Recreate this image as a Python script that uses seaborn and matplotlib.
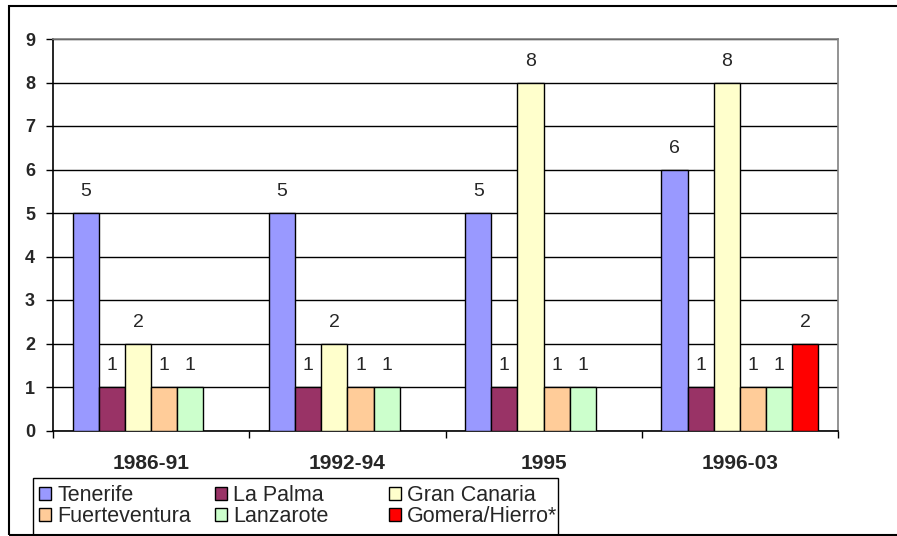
import numpy as np
import pandas as pd
import seaborn as sns
import matplotlib.pyplot as plt
from matplotlib.patches import Patch, Rectangle
from matplotlib.ticker import FixedLocator

periods = ['1986-91', '1992-94', '1995', '1996-03']
islands = ['Tenerife', 'La Palma', 'Gran Canaria', 'Fuerteventura', 'Lanzarote', 'Gomera/Hierro*']
tenerife = [5, 5, 5, 6]
la_palma = [1, 1, 1, 1]
gran_canaria = [2, 2, 8, 8]
fuerteventura = [1, 1, 1, 1]
lanzarote = [1, 1, 1, 1]
gomera_hierro = [np.nan, np.nan, np.nan, 2]
colors = ['#9999FF', '#993366', '#FFFFCC', '#FFCC99', '#CCFFCC', '#FF0000']

series = [tenerife, la_palma, gran_canaria, fuerteventura, lanzarote, gomera_hierro]
rows = []
for name, vals in zip(islands, series):
    for p, v in zip(periods, vals):
        rows.append({'period': p, 'island': name, 'value': v})
df = pd.DataFrame(rows)

sns.set_style('white')
plt.rcParams['font.family'] = ['Liberation Sans', 'DejaVu Sans']

W, H = 897, 536
fig = plt.figure(figsize=(W / 100, H / 100), dpi=100)
ax = fig.add_axes([53 / W, 105.5 / H, 785 / W, 391.5 / H])

sns.barplot(data=df, x='period', y='value', hue='island', hue_order=islands,
            order=periods, palette=colors, saturation=1, width=0.8, edgecolor='black',
            linewidth=1.0, errorbar=None, legend=False, ax=ax, zorder=3)

for cont in ax.containers:
    ax.bar_label(cont, fmt='%g', padding=9, fontsize=14)

ax.set_ylim(0, 9)
ax.set_xlim(-0.5, 3.5)
ax.set_yticks(range(10))
ax.yaxis.grid(True, color='black', linewidth=1.0, zorder=0)
ax.set_axisbelow(True)
ax.set_xlabel('')
ax.set_ylabel('')

ax.tick_params(axis='y', length=5, width=1, color='black', pad=8, labelsize=13, left=True)
ax.tick_params(axis='x', which='major', length=0, pad=17, labelsize=15)
ax.xaxis.set_minor_locator(FixedLocator([-0.5, 0.5, 1.5, 2.5, 3.5]))
ax.tick_params(axis='x', which='minor', length=5, width=1, color='black', bottom=True)
for lbl in ax.get_xticklabels() + ax.get_yticklabels():
    lbl.set_fontweight('bold')

for side in ['left', 'bottom']:
    ax.spines[side].set_color('black')
    ax.spines[side].set_linewidth(1.2)
for side in ['top', 'right']:
    ax.spines[side].set_color('#808080')
    ax.spines[side].set_linewidth(1.2)

# legend: three equal-width columns in one box, as in the original
handles = [Patch(facecolor=c, edgecolor='black', linewidth=1.0) for c in colors]
fig.patches.append(Rectangle((33 / W, -0.01), 525 / W, 58 / H + 0.01, transform=fig.transFigure,
                             fill=False, edgecolor='black', linewidth=1.0, clip_on=False))
col_x = [39, 215, 389]
for col, x in enumerate(col_x):
    idx = [col, col + 3]
    fig.legend([handles[i] for i in idx], [islands[i] for i in idx],
               loc='upper left', bbox_to_anchor=(x / W, (H - 485) / H),
               bbox_transform=fig.transFigure, borderaxespad=0, borderpad=0,
               fontsize=15.5, frameon=False, handlelength=0.55, handleheight=0.55,
               handletextpad=0.3, labelspacing=0.0)

# outer chart border
fig.patches.append(Rectangle((9 / W, 1 / H), 1.0, 529 / H, transform=fig.transFigure,
                             fill=False, edgecolor='black', linewidth=1.5, clip_on=False))

fig.savefig('out.png', dpi=100)
